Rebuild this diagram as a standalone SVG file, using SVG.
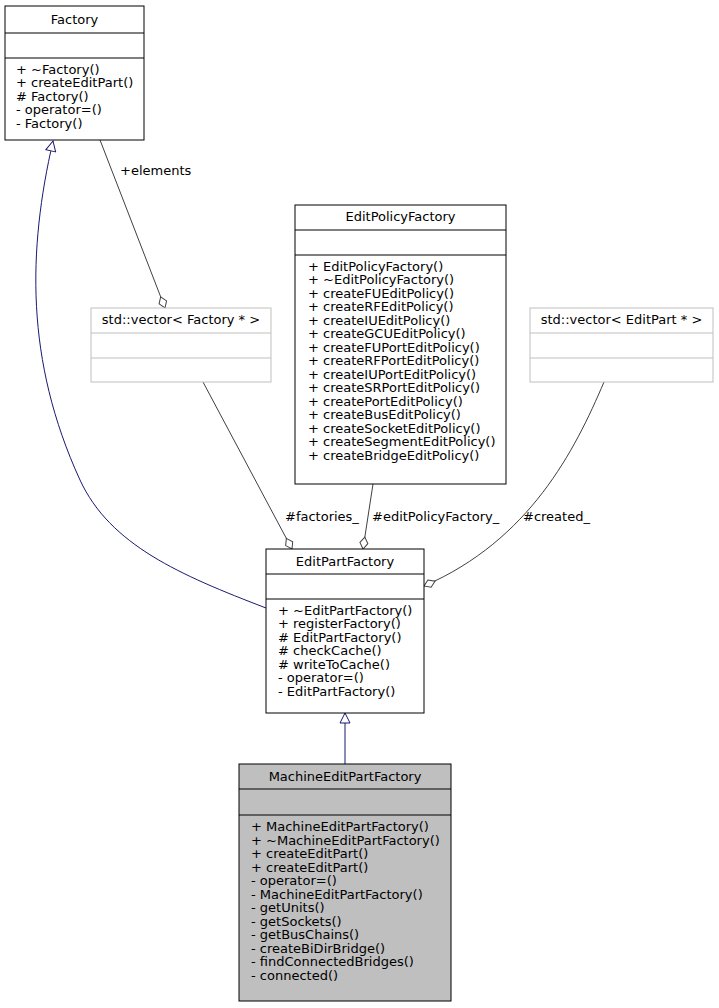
<svg xmlns="http://www.w3.org/2000/svg" width="719" height="1008" viewBox="0 0 719 1008">
<style>
text{font-family:"DejaVu Sans",sans-serif;font-size:13px;fill:#000}
.t{text-anchor:middle}
.b{fill:#fff;stroke:#000;stroke-width:1}
.g{fill:#fff;stroke:#bfbfbf;stroke-width:1}
.m{fill:#bfbfbf;stroke:#000;stroke-width:1}
.ln{stroke:#000;stroke-width:1}
.lg{stroke:#bfbfbf;stroke-width:1}
.agg{fill:none;stroke:#404040;stroke-width:1;marker-end:url(#dia)}
.inh{fill:none;stroke:#191970;stroke-width:1;marker-end:url(#tri)}
</style>
<defs>
<marker id="dia" markerUnits="userSpaceOnUse" markerWidth="14" markerHeight="10" refX="13" refY="5" orient="auto" viewBox="0 0 14 10"><path d="M1,5 L7,1 L13,5 L7,9 z" fill="#fff" stroke="#404040"/></marker>
<marker id="tri" markerUnits="userSpaceOnUse" markerWidth="12" markerHeight="12" refX="11" refY="6" orient="auto" viewBox="0 0 12 12"><path d="M1,1 L11,6 L1,11 z" fill="#fff" stroke="#191970"/></marker>
</defs>
<g id="connectors">
<path class="inh" d="M266,608 C180,575 110,545 80,480 C25,360 28,250 53,141"/>
<path class="inh" d="M345,764 L345,713"/>
<path class="agg" d="M100,140 L165,308"/>
<path class="agg" d="M203,382 L292,549"/>
<path class="agg" d="M373,484 L363,549"/>
<path class="agg" d="M604,382 C575,450 530,540 424,586"/>
<text x="120" y="175">+elements</text>
<text x="285" y="521">#factories_</text>
<text x="372" y="521">#editPolicyFactory_</text>
<text x="523" y="521">#created_</text>
</g>
<g id="Factory">
<rect class="b" x="5" y="6" width="139" height="134"/>
<line class="ln" x1="5" y1="33" x2="144" y2="33"/><line class="ln" x1="5" y1="58" x2="144" y2="58"/>
<text class="t" x="74.5" y="24">Factory</text>
<text x="16" y="74">+ ~Factory()</text><text x="16" y="87">+ createEditPart()</text><text x="16" y="101"># Factory()</text><text x="16" y="114">- operator=()</text><text x="16" y="128">- Factory()</text>
</g>
<g id="EditPolicyFactory">
<rect class="b" x="295" y="205" width="211" height="279"/>
<line class="ln" x1="295" y1="230" x2="506" y2="230"/><line class="ln" x1="295" y1="255" x2="506" y2="255"/>
<text class="t" x="400.5" y="221">EditPolicyFactory</text>
<text x="308" y="271">+ EditPolicyFactory()</text>
<text x="308" y="284">+ ~EditPolicyFactory()</text>
<text x="308" y="298">+ createFUEditPolicy()</text>
<text x="308" y="311">+ createRFEditPolicy()</text>
<text x="308" y="325">+ createIUEditPolicy()</text>
<text x="308" y="338">+ createGCUEditPolicy()</text>
<text x="308" y="352">+ createFUPortEditPolicy()</text>
<text x="308" y="365">+ createRFPortEditPolicy()</text>
<text x="308" y="379">+ createIUPortEditPolicy()</text>
<text x="308" y="392">+ createSRPortEditPolicy()</text>
<text x="308" y="406">+ createPortEditPolicy()</text>
<text x="308" y="419">+ createBusEditPolicy()</text>
<text x="308" y="433">+ createSocketEditPolicy()</text>
<text x="308" y="446">+ createSegmentEditPolicy()</text>
<text x="308" y="460">+ createBridgeEditPolicy()</text>
</g>
<g id="VectorFactory">
<rect class="g" x="91" y="308" width="180" height="74"/>
<line class="lg" x1="91" y1="333" x2="271" y2="333"/><line class="lg" x1="91" y1="358" x2="271" y2="358"/>
<text class="t" x="181" y="324">std::vector&lt; Factory * &gt;</text>
</g>
<g id="VectorEditPart">
<rect class="g" x="530" y="308" width="183" height="74"/>
<line class="lg" x1="530" y1="333" x2="713" y2="333"/><line class="lg" x1="530" y1="358" x2="713" y2="358"/>
<text class="t" x="621.5" y="324">std::vector&lt; EditPart * &gt;</text>
</g>
<g id="EditPartFactory">
<rect class="b" x="266" y="549" width="158" height="164"/>
<line class="ln" x1="266" y1="574" x2="424" y2="574"/><line class="ln" x1="266" y1="599" x2="424" y2="599"/>
<text class="t" x="345" y="566">EditPartFactory</text>
<text x="278" y="615">+ ~EditPartFactory()</text>
<text x="278" y="628">+ registerFactory()</text>
<text x="278" y="642"># EditPartFactory()</text>
<text x="278" y="655"># checkCache()</text>
<text x="278" y="669"># writeToCache()</text>
<text x="278" y="682">- operator=()</text>
<text x="278" y="696">- EditPartFactory()</text>
</g>
<g id="MachineEditPartFactory">
<rect class="m" x="239" y="764" width="212" height="237"/>
<line class="ln" x1="239" y1="789" x2="451" y2="789"/><line class="ln" x1="239" y1="815" x2="451" y2="815"/>
<text class="t" x="345" y="781">MachineEditPartFactory</text>
<text x="251" y="831">+ MachineEditPartFactory()</text>
<text x="251" y="845">+ ~MachineEditPartFactory()</text>
<text x="251" y="858">+ createEditPart()</text>
<text x="251" y="872">+ createEditPart()</text>
<text x="251" y="885">- operator=()</text>
<text x="251" y="899">- MachineEditPartFactory()</text>
<text x="251" y="912">- getUnits()</text>
<text x="251" y="926">- getSockets()</text>
<text x="251" y="939">- getBusChains()</text>
<text x="251" y="953">- createBiDirBridge()</text>
<text x="251" y="966">- findConnectedBridges()</text>
<text x="251" y="980">- connected()</text>
</g>
</svg>
